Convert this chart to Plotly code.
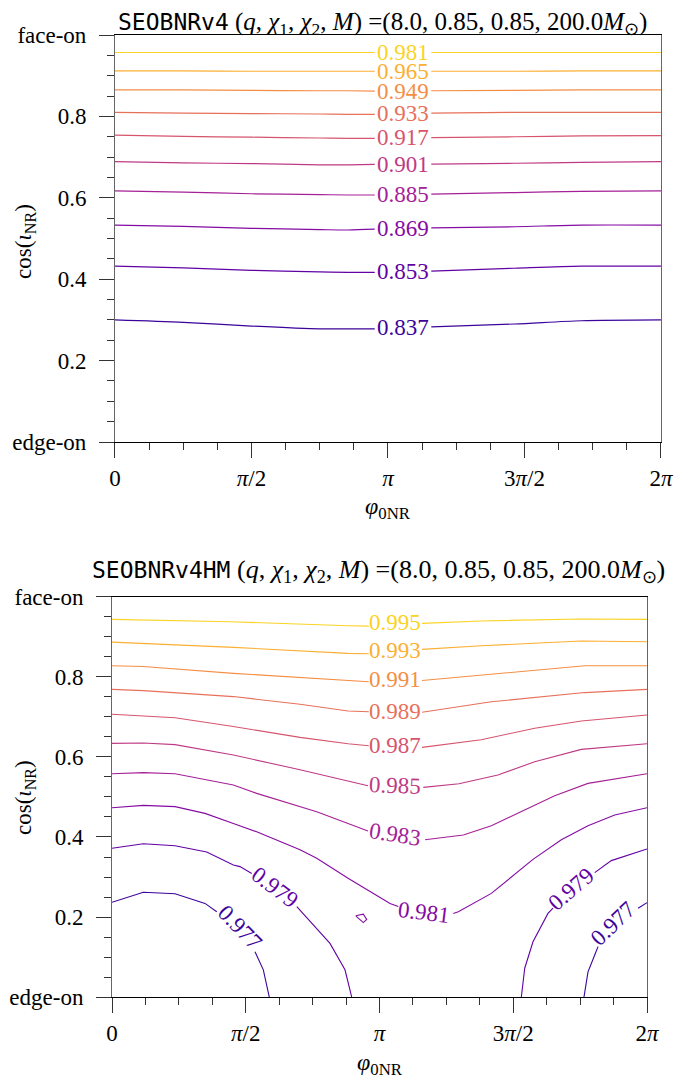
import numpy as np
import plotly.graph_objects as go
from plotly.colors import sample_colorscale

PI = np.pi

# ---------------- top panel: SEOBNRv4 ----------------
v4_levels = ["0.837", "0.853", "0.869", "0.885", "0.901", "0.917", "0.933", "0.949", "0.965", "0.981"]
v4_phi = [0, 0.785, 1.571, 2.356, 2.681, 2.989, None, 3.640, 4.600, 5.366, 6.283]
v4_837 = [0.300, 0.294, 0.285, 0.278, 0.278, 0.278, None, 0.283, 0.290, 0.298, 0.300]
v4_853 = [0.432, 0.428, 0.422, 0.418, 0.417, 0.417, None, 0.420, 0.427, 0.432, 0.432]
v4_869 = [0.533, 0.530, 0.525, 0.522, 0.521, 0.523, None, 0.526, 0.529, 0.533, 0.533]
v4_885 = [0.617, 0.614, 0.610, 0.608, 0.607, 0.607, None, 0.609, 0.613, 0.616, 0.617]
v4_901 = [0.689, 0.686, 0.684, 0.681, 0.681, 0.682, None, 0.683, 0.685, 0.687, 0.689]
v4_917 = [0.754, 0.751, 0.749, 0.747, 0.746, 0.746, None, 0.748, 0.750, 0.752, 0.753]
v4_933 = [0.810, 0.808, 0.807, 0.806, 0.805, 0.805, None, 0.808, 0.810, 0.810, 0.810]
v4_949 = [0.865, 0.865, 0.864, 0.863, 0.863, 0.862, None, 0.863, 0.864, 0.865, 0.865]
v4_965 = [0.912, 0.912, 0.911, 0.911, 0.911, 0.911, None, 0.911, 0.911, 0.912, 0.912]
v4_981 = [0.957, 0.957, 0.957, 0.957, 0.957, 0.957, None, 0.957, 0.957, 0.957, 0.957]
v4_lines = [v4_837, v4_853, v4_869, v4_885, v4_901, v4_917, v4_933, v4_949, v4_965, v4_981]
v4_label_phi = [3.314] * 10
v4_label_cos = [0.2805, 0.4185, 0.524, 0.608, 0.6825, 0.747, 0.806, 0.862, 0.911, 0.957]

# ---------------- bottom panel: SEOBNRv4HM ----------------
hm_levels = ["0.977", "0.979", "0.981", "0.983", "0.985", "0.987", "0.989", "0.991", "0.993", "0.995"]
hm_995_phi = [0, 1.386, 2.772, 3.015, None, 3.641, 4.337, 5.512, 6.283]
hm_995_cos = [0.944, 0.938, 0.928, 0.927, None, 0.934, 0.940, 0.945, 0.944]
hm_993_phi = [0, 1.425, 2.772, 3.015, None, 3.641, 4.337, 5.512, 6.283]
hm_993_cos = [0.887, 0.874, 0.859, 0.858, None, 0.869, 0.878, 0.890, 0.888]
hm_991_phi = [0, 0.368, 1.425, 2.772, 3.015, None, 3.641, 4.729, 5.552, 6.283]
hm_991_cos = [0.828, 0.826, 0.809, 0.790, 0.788, None, 0.791, 0.813, 0.828, 0.828]
hm_989_phi = [0, 0.368, 1.425, 2.208, 2.772, 3.015, None, 3.641, 4.455, 5.552, 6.283]
hm_989_cos = [0.769, 0.766, 0.751, 0.732, 0.715, 0.713, None, 0.712, 0.738, 0.761, 0.769]
hm_987_phi = [0, 0.368, 0.740, 1.425, 2.208, 2.772, 3.015, None, 3.641, 4.337, 4.964, 5.512, 6.283]
hm_987_cos = [0.707, 0.703, 0.698, 0.676, 0.649, 0.633, 0.628, None, 0.624, 0.643, 0.672, 0.690, 0.705]
hm_985_phi = [0, 0.368, 0.740, 1.425, 2.208, 2.772, 3.006, None, 3.656, 4.075, 4.533, 4.964, 5.512, 6.283]
hm_985_cos = [0.634, 0.635, 0.631, 0.605, 0.568, 0.541, 0.528, None, 0.524, 0.533, 0.555, 0.588, 0.619, 0.633]
hm_983_phi = [0, 0.368, 0.740, 1.425, 1.699, 2.404, 2.772, 3.006, None, 3.676, 4.126, 4.455, 4.807, 5.199, 5.590, 6.283]
hm_983_cos = [0.558, 0.561, 0.558, 0.530, 0.509, 0.463, 0.434, 0.415, None, 0.393, 0.405, 0.428, 0.463, 0.503, 0.534, 0.558]
hm_981_phi = [0, 0.368, 0.740, 1.092, 1.425, 1.699, 2.208, 2.404, 2.772, 3.265, 3.362, None,
              4.008, 4.067, 4.455, 4.807, 4.944, 5.277, 5.590, 5.904, 6.283]
hm_981_cos = [0.473, 0.479, 0.476, 0.459, 0.434, 0.413, 0.368, 0.347, 0.297, 0.234, 0.226, None,
              0.209, 0.213, 0.259, 0.319, 0.344, 0.393, 0.428, 0.455, 0.473]
hm_981_loop_phi = [2.862, 2.951, 2.991, 2.951, 2.862]
hm_981_loop_cos = [0.203, 0.207, 0.194, 0.186, 0.203]
hm_979a_phi = [0, 0.368, 0.740, 1.112, 1.425, 1.503, 1.641, None, 2.170, 2.267, 2.560, 2.736, 2.815]
hm_979a_cos = [0.372, 0.383, 0.378, 0.3625, 0.330, 0.326, 0.309, None, 0.226, 0.203, 0.134, 0.068, 0.0]
hm_979b_phi = [4.807, 4.847, 4.944, 5.120, 5.179, None, 5.669, 5.864, 6.283]
hm_979b_cos = [0.0, 0.072, 0.138, 0.209, 0.222, None, 0.311, 0.341, 0.370]
hm_977a_phi = [0, 0.368, 0.740, 1.092, 1.230, None, 1.679, 1.777, 1.847]
hm_977a_cos = [0.237, 0.262, 0.258, 0.234, 0.213, None, 0.113, 0.068, 0.0]
hm_977b_phi = [5.543, 5.590, 5.669, 5.708, None, 6.178, 6.283]
hm_977b_cos = [0.0, 0.063, 0.105, 0.126, None, 0.222, 0.236]

# (level index, phi, cos) for every drawn piece
hm_lines = [
    (9, hm_995_phi, hm_995_cos), (8, hm_993_phi, hm_993_cos), (7, hm_991_phi, hm_991_cos),
    (6, hm_989_phi, hm_989_cos), (5, hm_987_phi, hm_987_cos), (4, hm_985_phi, hm_985_cos),
    (3, hm_983_phi, hm_983_cos), (2, hm_981_phi, hm_981_cos), (2, hm_981_loop_phi, hm_981_loop_cos),
    (1, hm_979a_phi, hm_979a_cos), (1, hm_979b_phi, hm_979b_cos),
    (0, hm_977a_phi, hm_977a_cos), (0, hm_977b_phi, hm_977b_cos),
]
hm_label_level = [9, 8, 7, 6, 5, 4, 3, 2, 1, 0, 1, 0]
hm_label_phi = [3.324, 3.324, 3.324, 3.324, 3.324, 3.324, 3.324, 3.664, 1.914, 1.503, 5.385, 5.884]
hm_label_cos = [0.935, 0.865, 0.7925, 0.713, 0.628, 0.528, 0.406, 0.2125, 0.274, 0.174, 0.270, 0.184]
hm_label_angle = [0, 0, 0, 0, 0, 2, 9, 7, 37, 46, -41, -44]

phi_ticks = [0, PI / 2, PI, 3 * PI / 2, 2 * PI]
phi_ticktext = ["0", "<i>π</i>/2", "<i>π</i>", "3<i>π</i>/2", "2<i>π</i>"]
cos_ticks = [0, 0.2, 0.4, 0.6, 0.8, 1.0]
cos_ticktext = ["edge-on", "0.2", "0.4", "0.6", "0.8", "face-on"]

colors = sample_colorscale("Plasma", [i / 11 for i in range(1, 11)])
SERIF = "Liberation Serif, Times New Roman, serif"

# the page body adds an 8px margin, so the figure is laid out 8px smaller
W, H = 688, 1072

fig = go.Figure()

for i, ys in enumerate(v4_lines):
    fig.add_trace(go.Scatter(x=v4_phi, y=ys, mode="lines", xaxis="x", yaxis="y",
                             line=dict(color=colors[i], width=1.2, shape="spline", smoothing=0.8),
                             showlegend=False, hoverinfo="skip"))

for lev, xs, ys in hm_lines:
    fig.add_trace(go.Scatter(x=xs, y=ys, mode="lines", xaxis="x2", yaxis="y2",
                             line=dict(color=colors[lev], width=1.1),
                             showlegend=False, hoverinfo="skip"))

annotations = []
for i, lab in enumerate(v4_levels):
    annotations.append(dict(x=v4_label_phi[i], y=v4_label_cos[i], xref="x", yref="y", text=lab,
                            showarrow=False, font=dict(family=SERIF, size=23, color=colors[i])))
for k, lev in enumerate(hm_label_level):
    annotations.append(dict(x=hm_label_phi[k], y=hm_label_cos[k], xref="x2", yref="y2",
                            text=hm_levels[lev], textangle=hm_label_angle[k], showarrow=False,
                            font=dict(family=SERIF, size=23, color=colors[lev])))


def paper_text(x, y, text, size, angle=0):
    return dict(x=x, y=y, xref="paper", yref="paper", xanchor="center", yanchor="middle",
                showarrow=False, textangle=angle, text=text,
                font=dict(family=SERIF, size=size, color="black"))


mono = "<span style='font-family:DejaVu Sans Mono;font-size:23px'>{}</span>"
params = (" (<i>q</i>, <i>χ</i><sub>1</sub>, <i>χ</i><sub>2</sub>, <i>M</i>) "
          "=(8.0, 0.85, 0.85, 200.0<i>M</i><sub>⊙</sub>)")
annotations.append(paper_text(0.545, 0.9855, mono.format("SEOBNRv4") + params, 25))
annotations.append(paper_text(0.538, 0.4748, mono.format("SEOBNRv4HM") + params, 26))

for yc in [0.7827, 0.264]:
    annotations.append(paper_text(0.0247, yc, "cos(<i>ι</i><sub>NR</sub>)", 23, -90))
annotations.append(paper_text(0.552, 0.5336, "<i>φ</i><sub>0NR</sub>", 24))
annotations.append(paper_text(0.5407, 0.0149, "<i>φ</i><sub>0NR</sub>", 24))


def xaxis_style(domain, anchor):
    return dict(domain=domain, anchor=anchor, range=[0, 2 * PI], tickmode="array",
                tickvals=phi_ticks, ticktext=phi_ticktext, ticks="outside", ticklen=15,
                tickwidth=1, tickcolor="#333", ticklabelstandoff=0, automargin=False,
                minor=dict(dtick=PI / 8, tick0=0, ticks="outside", ticklen=7, tickcolor="#333"),
                showline=True, linecolor="black", linewidth=1, mirror=True,
                showgrid=False, zeroline=False,
                tickfont=dict(family=SERIF, size=23, color="black"))


def yaxis_style(domain, anchor):
    return dict(domain=domain, anchor=anchor, range=[0, 1], tickmode="array",
                tickvals=cos_ticks, ticktext=cos_ticktext, ticks="outside", ticklen=15,
                tickwidth=1, tickcolor="#333", ticklabelstandoff=8, automargin=False,
                minor=dict(dtick=0.05, tick0=0, ticks="outside", ticklen=7, tickcolor="#333"),
                showline=True, linecolor="#666", linewidth=1, mirror=True,
                showgrid=False, zeroline=False,
                tickfont=dict(family=SERIF, size=23, color="black"))


fig.update_layout(
    template="none",
    width=W, height=H, autosize=False,
    margin=dict(l=0, r=0, t=0, b=0, pad=0),
    paper_bgcolor="white", plot_bgcolor="white",
    xaxis=xaxis_style([0.1555, 0.9491], "y"),
    yaxis=yaxis_style([0.5951, 0.9748], "x"),
    xaxis2=xaxis_style([0.1512, 0.9288], "y2"),
    yaxis2=yaxis_style([0.0774, 0.4506], "x2"),
    annotations=annotations,
)

fig.write_html("out.html")
